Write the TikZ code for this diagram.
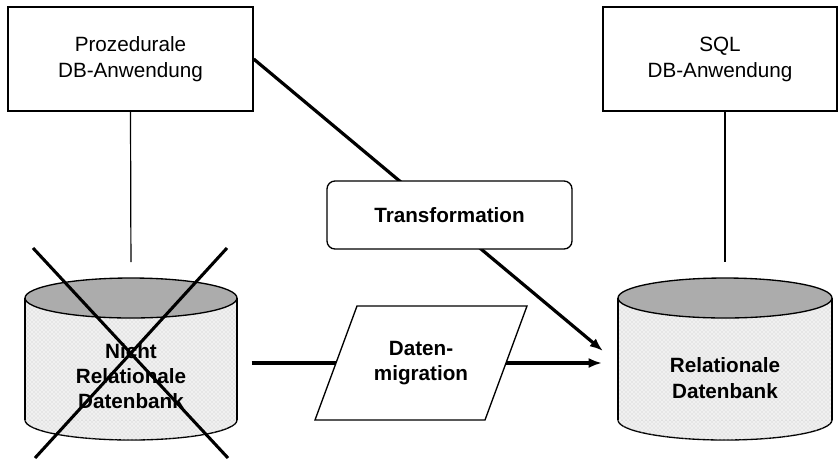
\documentclass[tikz,border=0pt]{standalone}
\usepackage{fontspec}
\setmainfont{Liberation Sans}
\usetikzlibrary{arrows.meta}
\usetikzlibrary{patterns}

\begin{document}
\begin{tikzpicture}[x=0.75pt,y=-0.75pt,
    appbox/.style={draw,line width=1pt,fill=white,minimum width=175.5pt,minimum height=78pt,
      align=center,font=\fontsize{15.5}{19.5}\selectfont},
    boldtext/.style={align=center,font=\bfseries\fontsize{15.5}{19}\selectfont},
    trbox/.style={boldtext,draw,line width=1pt,fill=white,rounded corners=6pt,
      minimum width=183.75pt,minimum height=51pt},
    migline/.style={line width=1pt,fill=white},
    dbbody/.style={line width=1pt,fill=gray!12,postaction={pattern=crosshatch dots,pattern color=gray!45}},
    dbtop/.style={line width=1pt,fill=gray!65},
    dbline/.style={line width=1pt},
    thinline/.style={line width=0.9pt},
    thickline/.style={line width=2.4pt},
    cross/.style={line width=2.3pt},
    tip/.style={-{Latex[length=10pt,width=7.5pt]}}]
    \useasboundingbox (0,0) rectangle (838,458);
    %% Anwendungen
    \node[appbox,minimum width=183.75pt] (proz) at (130.5,59) {Prozedurale\\DB-Anwendung};
    \node[appbox] (sql) at (720,59) {SQL\\DB-Anwendung};
    %% nicht relationale Datenbank
    \filldraw[dbbody] (131,420) ellipse (106 and 20);
    \fill[dbbody] (25,298) rectangle (237,420);
    \draw[dbline] (25,298) -- (25,420) (237,298) -- (237,420);
    \filldraw[dbtop] (131,298) ellipse (106 and 20);
    \node[boldtext] (ndb) at (131,376) {Nicht\\Relationale\\Datenbank};
    \coordinate (ndbtop) at (131,278);
    \coordinate (ndbr) at (237,363);
    \draw[cross] (33,248) -- (228,458);
    \draw[cross] (227,248) -- (35,458);
    %% relationale Datenbank
    \filldraw[dbbody] (725,420) ellipse (107 and 20);
    \fill[dbbody] (618,298) rectangle (832,420);
    \draw[dbline] (618,298) -- (618,420) (832,298) -- (832,420);
    \filldraw[dbtop] (725,298) ellipse (107 and 20);
    \node[boldtext] (rdb) at (725,378) {Relationale\\Datenbank};
    \coordinate (rdbtop) at (725,278);
    \coordinate (rdbl) at (618,363);
    \coordinate (rdbin) at (603,351);
    %% Verbindungen
    \draw[thinline,shorten >=12pt] (proz.south) -- (ndbtop);
    \draw[thinline,shorten >=12pt] (sql.south -| rdbtop) -- (rdbtop);
    \draw[thickline,tip] (proz.east) -- (rdbin);
    \node[trbox] (trans) at (449.5,215) {Transformation};
    %% Datenmigration
    \filldraw[migline] (315,420) -- (357,306) -- (527,306) -- (485,420) -- cycle;
    \node[boldtext] (mig) at (421,363) {Daten-\\migration};
    \coordinate (migl) at (336,363);
    \coordinate (migr) at (506,363);
    \draw[thickline,shorten <=11pt] (ndbr) -- (migl);
    \draw[thickline,tip,shorten >=12pt] (migr) -- (rdbl);
\end{tikzpicture}
\end{document}
